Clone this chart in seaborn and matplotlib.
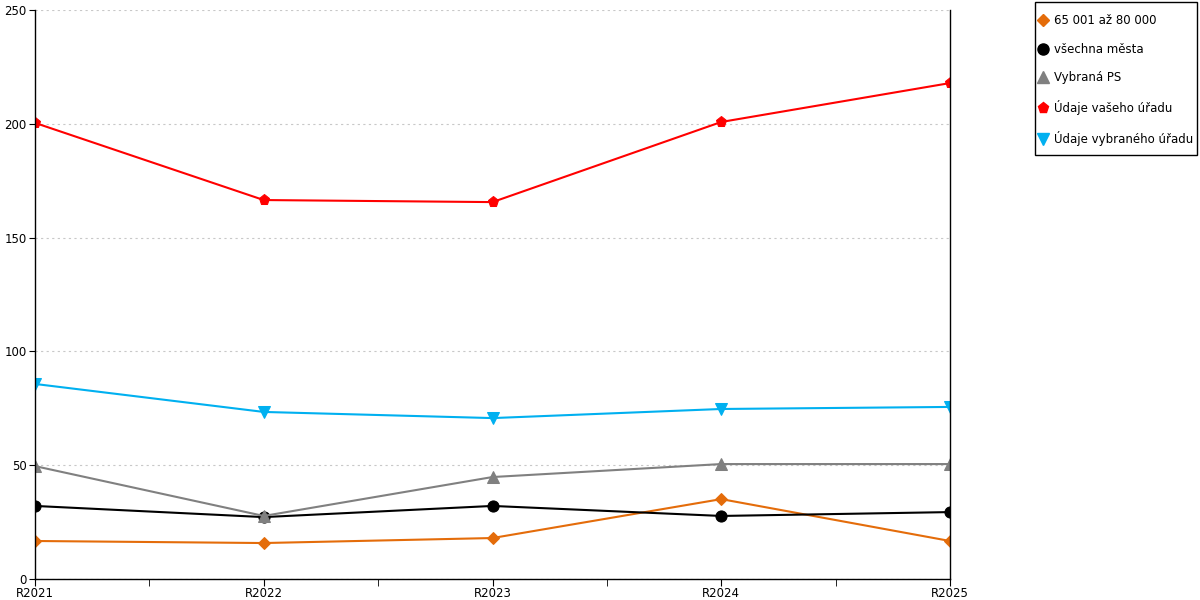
import matplotlib
matplotlib.use("Agg")
import pandas as pd
import matplotlib.pyplot as plt
from matplotlib.lines import Line2D
from matplotlib.patches import Rectangle
from matplotlib.ticker import MultipleLocator
import seaborn as sns

years = ["R2021", "R2022", "R2023", "R2024", "R2025"]
series_names = ["65 001 až 80 000", "všechna města", "Vybraná PS",
                "Údaje vašeho úřadu", "Údaje vybraného úřadu"]
orange_vals = [16.7, 15.8, 18.0, 35.1, 16.7]
black_vals = [32.1, 27.2, 32.1, 27.7, 29.4]
gray_vals = [49.6, 27.7, 44.8, 50.5, 50.5]
red_vals = [200.4, 166.5, 165.6, 200.8, 217.9]
blue_vals = [85.7, 73.4, 70.7, 74.7, 75.6]

colors = ["#e46c0a", "#000000", "#808080", "#ff0000", "#00b0f0"]
marker_list = ["D", "o", "^", "p", "v"]
marker_sizes = [6, 8, 8, 8, 8]

sns.set_style("white")
plt.rcParams["font.family"] = ["DejaVu Sans"]
plt.rcParams["text.color"] = "black"
plt.rcParams["xtick.color"] = "black"
plt.rcParams["ytick.color"] = "black"

rows = []
for name, vals in zip(series_names, [orange_vals, black_vals, gray_vals, red_vals, blue_vals]):
    for i, v in enumerate(vals):
        rows.append({"series": name, "x": i, "value": v})
df = pd.DataFrame(rows)

fig = plt.figure(figsize=(12, 6), dpi=100)
ax = fig.add_axes([35 / 1200, 21 / 600, 915 / 1200, 569 / 600])

for name, col, mk, ms in zip(series_names, colors, marker_list, marker_sizes):
    sub = df[df["series"] == name]
    sns.lineplot(data=sub, x="x", y="value", color=col, marker=mk, markersize=ms,
                 markeredgecolor=col, linewidth=1.5, ax=ax, legend=False)

ax.set_xlim(0, 4)
ax.set_ylim(0, 250)
ax.set_xlabel("")
ax.set_ylabel("")
ax.set_xticks(range(len(years)))
ax.set_xticklabels(years, fontsize=8.5)
ax.xaxis.set_minor_locator(MultipleLocator(0.5))
ax.set_yticks([0, 50, 100, 150, 200, 250])
ax.tick_params(axis="y", labelsize=8.5, length=4, direction="out", left=True, pad=2)
ax.tick_params(axis="x", which="both", length=5, direction="out", bottom=True, pad=1)
ax.yaxis.grid(True, linestyle=(0, (2, 3)), color="#c8c8c8", linewidth=0.8)
ax.xaxis.grid(False)
ax.set_axisbelow(True)
for side in ["left", "bottom", "right"]:
    ax.spines[side].set_color("black")
    ax.spines[side].set_linewidth(1)
ax.spines["top"].set_visible(False)

# legend shows markers only; its box is drawn separately so the padding can differ
handles = [Line2D([], [], linestyle="none", marker=mk, color=col, markersize=ms)
           for col, mk, ms in zip(colors, marker_list, marker_sizes)]
fig.legend(handles, series_names, loc="upper left",
           bbox_to_anchor=(1039 / 1200, 1 - 14 / 600),
           frameon=False, fontsize=8.5,
           handletextpad=0.6, handlelength=0.7, labelspacing=1.33, borderpad=0,
           borderaxespad=0)
fig.patches.append(Rectangle((1034.5 / 1200, 1 - 155 / 600), 162.5 / 1200, 153 / 600,
                             transform=fig.transFigure, fill=False,
                             edgecolor="black", linewidth=1))

fig.savefig("out.png", dpi=100)
